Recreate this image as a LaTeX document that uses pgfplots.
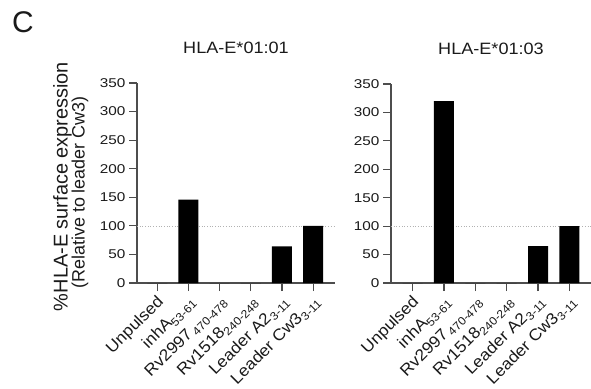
\documentclass[border=0pt]{standalone}
\usepackage{fontspec}
\setmainfont{Liberation Sans}
\newfontfamily\wideA{Liberation Sans}[FakeStretch=1.2]
\newfontfamily\wideB{Liberation Sans}[FakeStretch=1.1]
\newfontfamily\wideC{Liberation Sans}[FakeStretch=1.07]
\usepackage{pgfplots}
\pgfplotsset{compat=1.18}
\definecolor{axgray}{HTML}{4D4D4D}
\definecolor{txt}{HTML}{1A1A1A}
\newcommand{\sub}[1]{\raisebox{-0.4ex}{\fontsize{11.5}{11.5}\selectfont #1}}
\newcommand{\xl}[1]{\rotatebox{45}{\wideC\fontsize{16.3}{16.3}\selectfont #1}}
\pgfplotsset{
  panel/.style={
    scale only axis,
    ymin=0, ymax=350,
    ytick={0,50,...,350},
    xtick={0,1,2,3,4,5},
    xticklabels={\xl{Unpulsed}, \xl{inhA\sub{53-61}}, \xl{Rv2997\sub{\,470-478}}, \xl{Rv1518\sub{240-248}}, \xl{Leader A2\sub{3-11}}, \xl{Leader Cw3\sub{3-11}}},
    axis x line*=bottom, axis y line*=left,
    axis line style={-, axgray, line width=1.2bp},
    every tick/.style={axgray, line width=1.2bp},
    major tick length=8bp,
    tick align=outside,
    minor tick num=0,
    /pgf/number format/assume math mode=true,
    y tick label style={font=\wideA\fontsize{12.8}{13}\selectfont, text=txt},
    x tick label style={text=txt, anchor=north east, inner sep=0pt, xshift=9.5bp, yshift=-3bp},
    title style={font=\wideB\fontsize{16.5}{16.5}\selectfont, text=txt, at={(0.5,1)}, anchor=base, yshift=24bp, inner sep=0pt},
    clip=false,
  }
}
\begin{document}
\begin{tikzpicture}[x=1bp,y=1bp]
\begin{axis}[panel, at={(137bp,106bp)}, anchor=south west, width=198bp, height=200bp,
  xmin=-0.65, xmax=5.7, title={HLA-E*01:01}]
\addplot[gray!60, dotted, line width=0.7bp] coordinates {(-0.65,100) (5.7,100)};
\addplot[ybar, bar width=20bp, bar shift=0pt, fill=black, draw=none] coordinates {(0,0) (1,146) (2,0) (3,0) (4,64) (5,100)};
\end{axis}
\begin{axis}[panel, at={(391bp,106bp)}, anchor=south west, width=200bp, height=199bp,
  xmin=-0.69, xmax=5.69, title={HLA-E*01:03}]
\addplot[gray!60, dotted, line width=0.7bp] coordinates {(-0.69,100) (5.69,100)};
\addplot[ybar, bar width=20bp, bar shift=0pt, fill=black, draw=none] coordinates {(0,0) (1,320) (2,0) (3,0) (4,65) (5,100)};
\end{axis}
\node[anchor=base west, inner sep=0, text=txt, font=\fontsize{30}{30}\selectfont] at (12bp,356bp) {C};
\node[rotate=90, anchor=base, inner sep=0, text=txt, font=\fontsize{20}{20}\selectfont] at (67.5bp,202.5bp) {\%HLA-E surface expression};
\node[rotate=90, anchor=base, inner sep=0, text=txt, font=\fontsize{18}{18}\selectfont] at (84.5bp,196.5bp) {(Relative to leader Cw3)};
\pgfresetboundingbox
\path (0,0) rectangle (591bp,389bp);
\end{tikzpicture}
\end{document}
